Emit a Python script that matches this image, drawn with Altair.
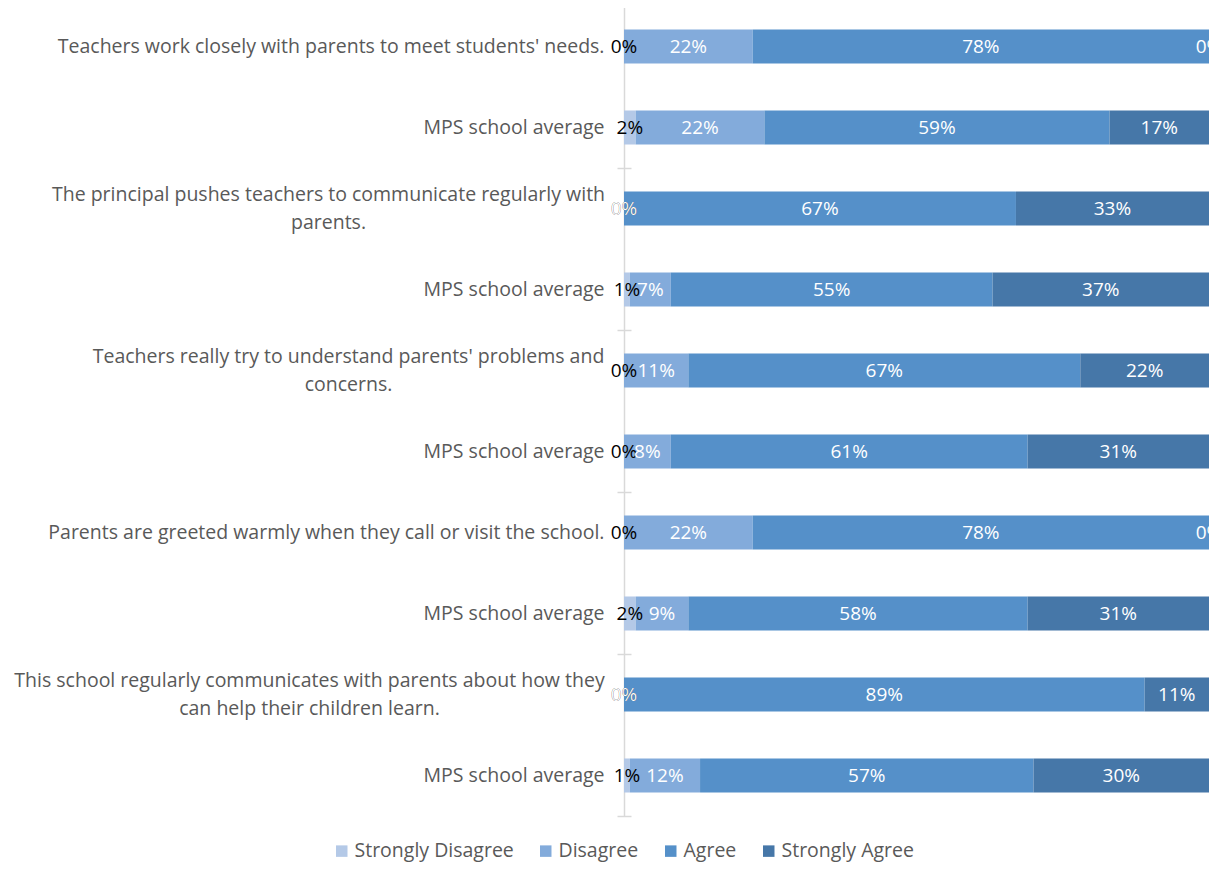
import altair as alt
import pandas as pd

rows = [
    "Teachers work closely with parents to meet students' needs.",
    "MPS school average",
    "The principal pushes teachers to communicate regularly with|parents.",
    "MPS school average",
    "Teachers really try to understand parents' problems and|concerns.",
    "MPS school average",
    "Parents are greeted warmly when they call or visit the school.",
    "MPS school average",
    "This school regularly communicates with parents about how they|can help their children learn.",
    "MPS school average",
]
# approx. half width (px) of the first line of each wrapped label, used to centre its lines
line1_half = [0, 0, 276, 0, 256, 0, 0, 0, 295, 0]
groups = ["G1", "G1", "G2", "G2", "G3", "G3", "G4", "G4", "G5", "G5"]
categories = ["Strongly Disagree", "Disagree", "Agree", "Strongly Agree"]
colors = ["#b4c9e7", "#83abdb", "#5590c9", "#4677a8"]

strongly_disagree = [0, 2, 0, 1, 0, 0, 0, 2, 0, 1]
disagree = [22, 22, 0, 7, 11, 8, 22, 9, 0, 12]
agree = [78, 59, 67, 55, 67, 61, 78, 58, 89, 57]
strongly_agree = [0, 17, 33, 37, 22, 31, 0, 31, 11, 30]

series = [strongly_disagree, disagree, agree, strongly_agree]
records = []
for i in range(len(rows)):
    for k, cat in enumerate(categories):
        records.append({"row": i, "category": cat, "order": k, "value": series[k][i]})
df = pd.DataFrame(records)
gdf = pd.DataFrame({"group": list(dict.fromkeys(groups))})

FONT = "Open Sans"
TXT = "#595959"
LINE_H = 28
PAD = 20

label_array = "[" + ",".join("'" + r.replace("'", "\\'") + "'" for r in rows) + "]"
label_expr = "split(" + label_array + "[datum.value], '|')"
multi_idx = [i for i, r in enumerate(rows) if "|" in r]
multi_test = "indexof([" + ",".join(str(i) for i in multi_idx) + "], datum.value) >= 0"
half_expr = str(PAD) + " + [" + ",".join(str(v) for v in line1_half) + "][datum.value]"

base = alt.Chart(df).transform_stack(
    stack="value", groupby=["row"], sort=[alt.SortField("order")], as_=["x0", "x1"]
).transform_calculate(mid="(datum.x0 + datum.x1) / 2", lab="datum.value + '%'")

yenc = alt.Y(
    "row:O",
    title=None,
    scale=alt.Scale(paddingInner=0.58, paddingOuter=0.29),
    axis=alt.Axis(
        labelExpr=label_expr,
        domain=True,
        domainColor="#d9d9d9",
        domainWidth=1.5,
        ticks=False,
        labelPadding={"condition": {"test": "!(" + multi_test + ")", "value": PAD}, "expr": half_expr},
        labelFont=FONT,
        labelFontSize=19.5,
        labelColor=TXT,
        labelLimit=0,
        labelLineHeight=LINE_H,
        labelAlign={"condition": {"test": multi_test, "value": "center"}, "value": "right"},
        labelOffset={"condition": {"test": multi_test, "value": -LINE_H / 2}, "value": 0},
    ),
)
xenc = alt.X("x0:Q", scale=alt.Scale(domain=[0, 100]), axis=None)

bars = base.mark_bar().encode(
    y=yenc,
    x=xenc,
    x2="x1:Q",
    color=alt.Color(
        "category:N",
        scale=alt.Scale(domain=categories, range=colors),
        legend=alt.Legend(
            title=None,
            orient="none",
            direction="horizontal",
            legendX=-292,
            legendY=835,
            symbolType="square",
            symbolSize=132,
            symbolStrokeWidth=0,
            labelFont=FONT,
            labelFontSize=19.5,
            labelColor=TXT,
            labelOffset=3,
            columnPadding=22,
        ),
    ),
)

texts = base.mark_text(font=FONT, fontSize=19).encode(
    y=alt.Y("row:O"),
    x=alt.X("mid:Q"),
    text="lab:N",
    color=alt.condition(
        "datum.category == 'Strongly Disagree'", alt.value("black"), alt.value("white")
    ),
)

ticks = alt.Chart(gdf).mark_bar(opacity=0).encode(
    y=alt.Y(
        "group:N",
        sort=None,
        title=None,
        scale=alt.Scale(paddingInner=0, paddingOuter=0),
        axis=alt.Axis(
            orient="left",
            labels=False,
            domain=False,
            ticks=True,
            tickBand="extent",
            tickSize=14,
            tickColor="#d9d9d9",
            tickWidth=1.5,
            offset=-7,
        ),
    ),
    x=alt.value(0),
    x2=alt.value(1),
)

chart = (
    alt.layer(alt.layer(bars, texts), ticks)
    .resolve_scale(y="independent")
    .properties(
        width=585,
        height=810,
        autosize=alt.AutoSizeParams(type="none"),
        padding={"left": 616, "top": -2, "right": 0, "bottom": 48},
    )
    .configure_view(stroke=None)
)

chart.save("out.html", embed_options={"renderer": "svg", "actions": False})
